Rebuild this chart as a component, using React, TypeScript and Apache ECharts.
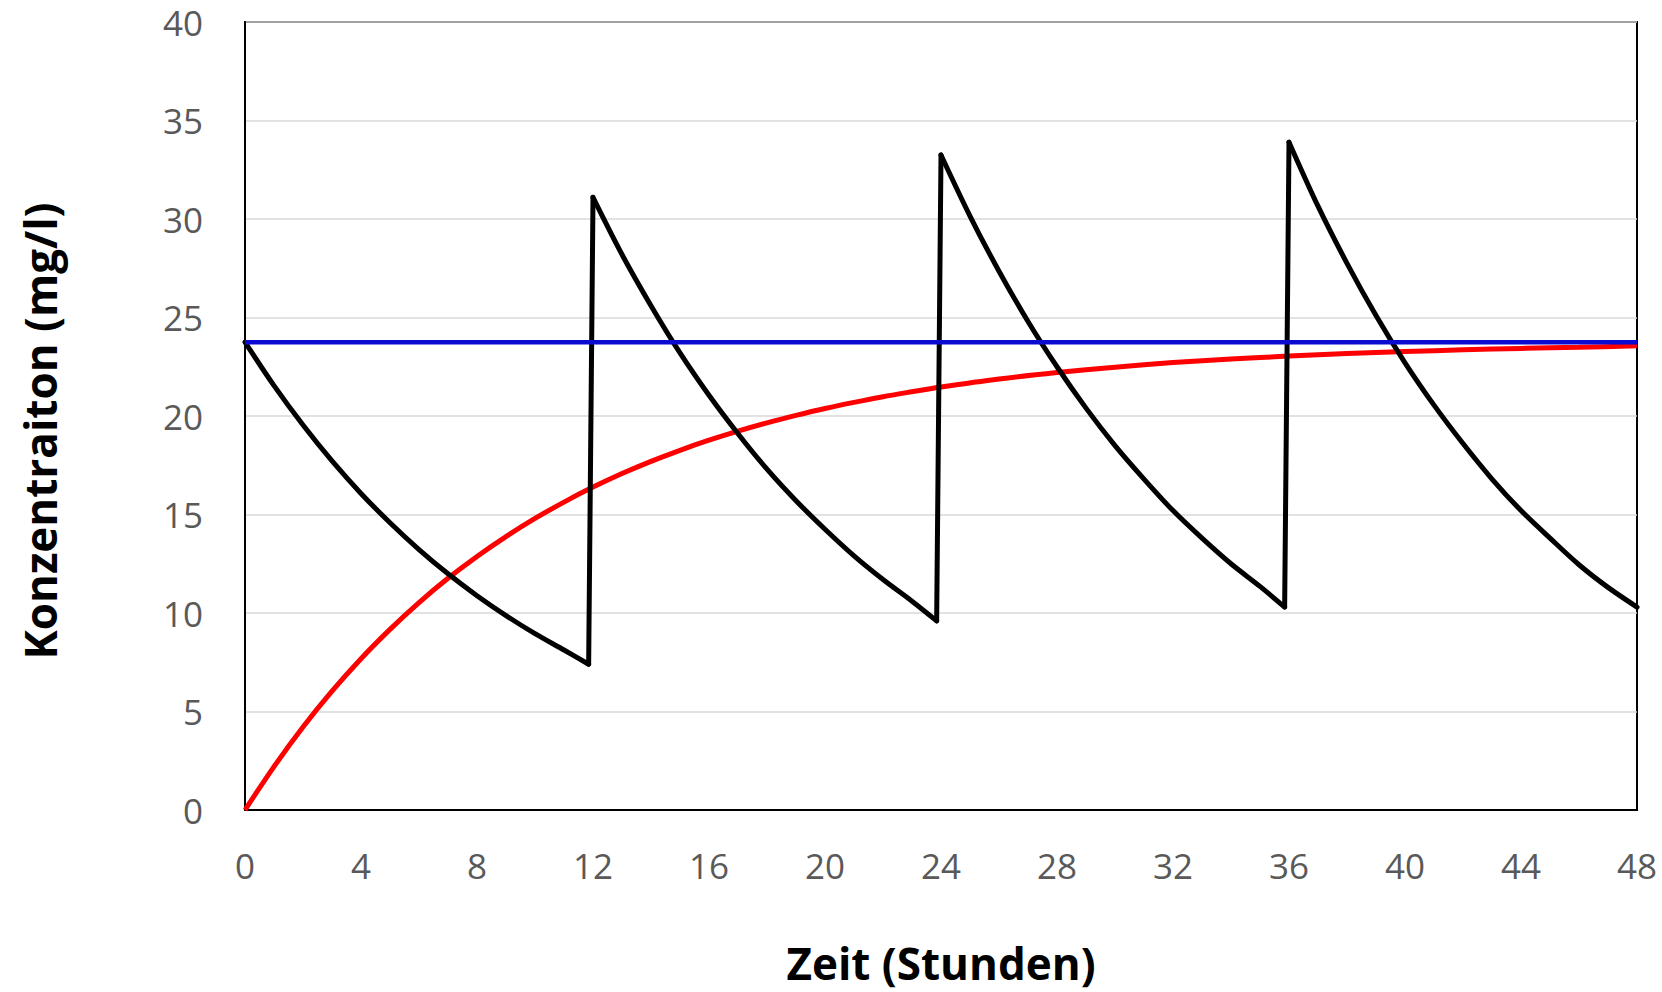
import React, { useEffect, useRef } from "react";
import * as echarts from "echarts";

// Black curve: repeated dosing (time in hours, concentration in mg/l)
const blackTime = [
  0, 1, 2, 3, 4, 5, 6, 7, 8, 9, 10, 11, 11.85,
  12, 13, 14, 15, 16, 17, 18, 19, 20, 21, 22, 23, 23.85,
  24, 25, 26, 27, 28, 29, 30, 31, 32, 33, 34, 35, 35.85,
  36, 37, 38, 39, 40, 41, 42, 43, 44, 45, 46, 47, 48,
];
const blackConc = [
  23.75, 21.54, 19.54, 17.72, 16.07, 14.58, 13.22, 11.99, 10.88, 9.87, 8.95, 8.12, 7.4,
  31.1, 28.2, 25.6, 23.2, 21.05, 19.1, 17.3, 15.7, 14.25, 12.9, 11.7, 10.6, 9.6,
  33.25, 30.15, 27.35, 24.8, 22.5, 20.4, 18.5, 16.8, 15.2, 13.8, 12.5, 11.35, 10.3,
  33.9, 30.65, 27.75, 25.1, 22.7, 20.55, 18.6, 16.8, 15.2, 13.8, 12.45, 11.3, 10.3,
];
// index ranges of the four decay phases within the black curve
const blackPhases = [
  [0, 12],
  [13, 25],
  [26, 38],
  [39, 51],
];

// Red curve: continuous infusion build-up
const redTime = [
  0, 1, 2, 3, 4, 5, 6, 7, 8, 9, 10, 11, 12, 13, 14, 15, 16, 17, 18, 19, 20,
  21, 22, 23, 24, 26, 28, 30, 32, 34, 36, 38, 40, 42, 44, 46, 48,
];
const redConc = [
  0, 2.2, 4.21, 6.03, 7.68, 9.17, 10.53, 11.76, 12.87, 13.88, 14.8, 15.63, 16.39,
  17.08, 17.7, 18.26, 18.77, 19.23, 19.65, 20.03, 20.38, 20.69, 20.98, 21.23,
  21.47, 21.88, 22.21, 22.48, 22.71, 22.89, 23.04, 23.17, 23.27, 23.36, 23.43,
  23.49, 23.56,
];

// Blue line: steady-state level
const blueTime = [0, 48];
const blueConc = [23.75, 23.75];

const xTitle = "Zeit (Stunden)";
const yTitle = "Konzentraiton (mg/l)";

const pairs = (xs: number[], ys: number[]) => xs.map((x, i) => [x, ys[i]]);
const slicePairs = (a: number, b: number) =>
  pairs(blackTime.slice(a, b + 1), blackConc.slice(a, b + 1));

export default function App() {
  const ref = useRef<HTMLDivElement>(null);
  useEffect(() => {
    if (!ref.current) return;
    const chart = echarts.init(ref.current, undefined, { renderer: "svg" });
    const font = "'Open Sans', 'Liberation Sans', sans-serif";
    const blackStyle = { color: "#000000", width: 5, join: "round", cap: "round" };
    const blackSeries: any[] = [];
    blackPhases.forEach(([a, b], i) => {
      blackSeries.push({
        type: "line",
        data: slicePairs(a, b),
        smooth: 0.3,
        showSymbol: false,
        lineStyle: blackStyle,
        z: 4,
      });
      if (i < blackPhases.length - 1) {
        const next = blackPhases[i + 1][0];
        blackSeries.push({
          type: "line",
          data: slicePairs(b, next),
          showSymbol: false,
          lineStyle: blackStyle,
          z: 4,
        });
      }
    });
    chart.setOption({
      animation: false,
      backgroundColor: "#ffffff",
      grid: {
        left: 245,
        right: 25,
        top: 22,
        bottom: 182,
        show: true,
        borderColor: "#000000",
        borderWidth: 2,
        backgroundColor: "transparent",
      },
      xAxis: {
        type: "value",
        min: 0,
        max: 48,
        interval: 4,
        name: xTitle,
        nameLocation: "middle",
        nameGap: 131,
        nameTextStyle: { fontFamily: font, fontSize: 44, fontWeight: "bold", color: "#000" },
        axisLine: { show: true, lineStyle: { color: "#000", width: 2 } },
        axisTick: { show: false },
        splitLine: { show: false },
        axisLabel: { fontFamily: font, fontSize: 35, color: "#595959", margin: 38 },
      },
      yAxis: {
        type: "value",
        min: 0,
        max: 40,
        interval: 5,
        axisLine: { show: true, lineStyle: { color: "#000", width: 2 } },
        axisTick: { show: false },
        splitLine: { show: true, lineStyle: { color: "#d9d9d9", width: 1.5 } },
        axisLabel: { fontFamily: font, fontSize: 35, color: "#595959", margin: 42 },
      },
      graphic: [
        {
          type: "text",
          x: 40,
          y: 431,
          rotation: Math.PI / 2,
          style: {
            text: yTitle,
            fontFamily: font,
            fontSize: 44,
            fontWeight: "bold",
            fill: "#000",
            textAlign: "center",
            textVerticalAlign: "middle",
          },
        },
      ],
      series: [
        {
          type: "line",
          data: pairs(redTime, redConc),
          smooth: 0.3,
          showSymbol: false,
          lineStyle: { color: "#ff0000", width: 5 },
          z: 3,
        },
        ...blackSeries,
        {
          type: "line",
          data: pairs(blueTime, blueConc),
          showSymbol: false,
          lineStyle: { color: "#0a0ad2", width: 4.5 },
          z: 5,
        },
      ],
    });
    return () => chart.dispose();
  }, []);
  return (
    <div
      ref={ref}
      style={{ position: "fixed", left: 0, top: 0, width: 1662, height: 992, background: "#fff" }}
    />
  );
}
